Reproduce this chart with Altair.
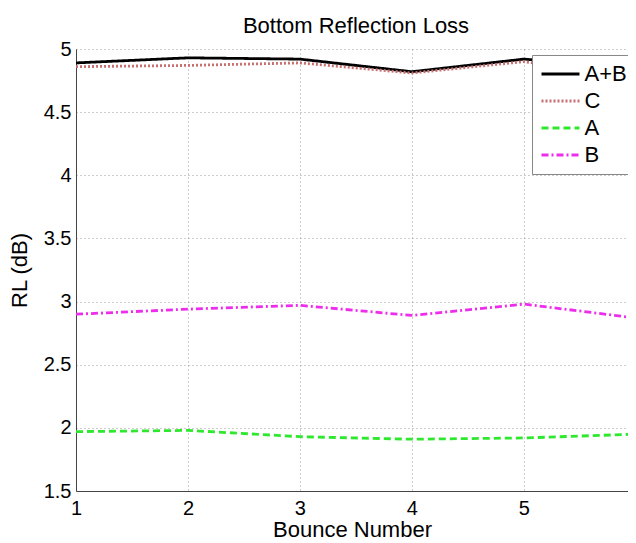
import altair as alt
import pandas as pd

bounce = [1, 2, 3, 4, 5, 6]
series_names = ["A+B", "C", "A", "B"]
ab = [4.89, 4.93, 4.92, 4.82, 4.92, 4.85]
c = [4.86, 4.87, 4.89, 4.81, 4.90, 4.77]
a = [1.97, 1.98, 1.93, 1.91, 1.92, 1.95]
b = [2.90, 2.94, 2.97, 2.89, 2.98, 2.87]
y_ticks = [1.5, 2, 2.5, 3, 3.5, 4, 4.5, 5]

rows = []
for name, vals in zip(series_names, [ab, c, a, b]):
    for x, v in zip(bounce, vals):
        rows.append({"Bounce": x, "RL": v, "Series": name})
df = pd.DataFrame(rows)

colors = ["#000000", "#c87070", "#2ee82e", "#ec2eec"]
dashes = [[1, 0], [2, 2], [7, 4], [7, 3, 2, 3]]
order_map = {"A+B": 4, "C": 3, "A": 2, "B": 1}
df["ord"] = df["Series"].map(order_map)

font = "Liberation Sans"

# the reference figure is cropped at its right edge: x = 6 lies just outside the page
chart = alt.Chart(df).mark_line(strokeWidth=2.8, clip=True).encode(
    x=alt.X("Bounce:Q", scale=alt.Scale(domain=[1, 5.93], nice=False),
            axis=alt.Axis(values=bounce, title="Bounce Number", format="d",
                          labelFlush=False)),
    y=alt.Y("RL:Q", scale=alt.Scale(domain=[1.5, 5], nice=False),
            axis=alt.Axis(values=y_ticks, title="RL (dB)", format="~g")),
    color=alt.Color("Series:N", scale=alt.Scale(domain=series_names, range=colors),
                    legend=alt.Legend(title=None, orient="none", legendX=456, legendY=6,
                                      symbolType="M-2,0H2", symbolSize=361,
                                      symbolStrokeWidth=2.8, symbolOffset=9.5,
                                      labelFont=font, labelFontSize=22, labelColor="black",
                                      fillColor="white", strokeColor="#888888",
                                      padding=8, rowPadding=5, labelOffset=13)),
    strokeDash=alt.StrokeDash("Series:N", scale=alt.Scale(domain=series_names, range=dashes),
                              legend=None),
    order=alt.Order("ord:Q"),
    detail="Series:N",
).properties(
    width=552, height=442,
    title=alt.TitleParams("Bottom Reflection Loss", font=font, fontSize=22,
                          fontWeight="normal", color="black", offset=1, dx=4,
                          anchor="middle"),
    padding={"left": 68, "top": 41, "right": 0, "bottom": 52},
    autosize=alt.AutoSizeParams(type="none"),
).configure_axis(
    labelFont=font, labelFontSize=20, labelColor="black",
    titleFont=font, titleFontSize=22, titleColor="black", titleFontWeight="normal",
    domainColor="#444444", domainWidth=1,
    tickSize=0,
    grid=True, gridColor="#9a9a9a", gridDash=[1, 3], gridWidth=1,
).configure_axisY(labelPadding=5, titlePadding=12).configure_axisX(
    labelPadding=7, titlePadding=1
).configure_view(strokeWidth=0)

chart.save("out.html", embed_options={"renderer": "svg", "actions": False})
